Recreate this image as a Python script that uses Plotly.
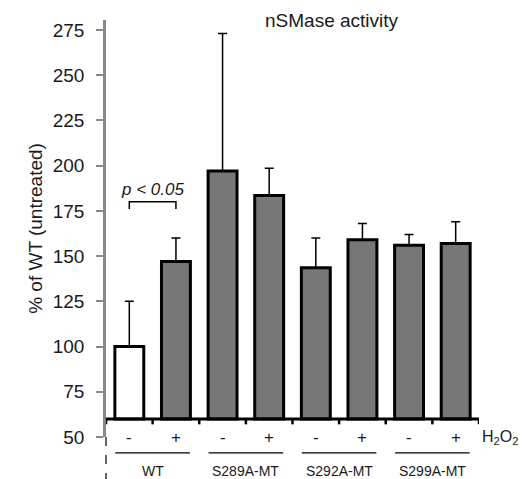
import plotly.graph_objects as go

categories = ["WT -", "WT +", "S289A -", "S289A +", "S292A -", "S292A +", "S299A -", "S299A +"]
treatment = ["-", "+", "-", "+", "-", "+", "-", "+"]
values = [100, 147, 197, 183.5, 143.5, 159, 156, 157]
errors = [25, 13, 76, 15, 16.5, 9, 6, 12]
groups = ["WT", "S289A-MT", "S292A-MT", "S299A-MT"]
yticks = [50, 75, 100, 125, 150, 175, 200, 225, 250, 275]
base_value = 60

FONT = "Liberation Sans, Arial, sans-serif"
TXT = "#1a1a1a"
colors = ["white"] + ["#777777"] * 7
xs = list(range(len(categories)))

fig = go.Figure()
fig.add_trace(go.Bar(
    x=xs, y=[v - base_value for v in values], base=base_value,
    marker=dict(color=colors, line=dict(color="black", width=3)),
    width=0.62,
    error_y=dict(type="data", array=errors, arrayminus=[0] * len(errors),
                 symmetric=False, color="black", thickness=1.5, width=4.5),
    showlegend=False,
))

shapes = []
# baseline
shapes.append(dict(type="line", xref="x", yref="y", x0=-0.5, x1=7.5, y0=base_value, y1=base_value,
                   line=dict(color="black", width=3)))
# category boundary ticks
for i in range(len(categories) + 1):
    b = i - 0.5
    shapes.append(dict(type="line", xref="x", yref="y", x0=b, x1=b, y0=base_value, y1=base_value - 3,
                       line=dict(color="black", width=2.5)))
# dashed extension of y axis below plot
shapes.append(dict(type="line", xref="paper", yref="paper", x0=0.0, x1=0.0, y0=0, y1=-0.11,
                   line=dict(color="#333333", width=1.5, dash="dash")))
# group underlines
for g in range(len(groups)):
    shapes.append(dict(type="line", xref="paper", yref="paper",
                       x0=(2 * g + 0.5 - 0.3) / 8.0, x1=(2 * g + 1.5 + 0.3) / 8.0,
                       y0=-0.038, y1=-0.038, line=dict(color="black", width=1.2)))
# significance bracket
shapes.append(dict(type="path", xref="x", yref="y",
                   path="M 0,176 L 0,180 L 1,180 L 1,176",
                   line=dict(color="black", width=1.5)))

annotations = []
for i, t in enumerate(treatment):
    annotations.append(dict(x=i, y=50, xref="x", yref="y", text=t, showarrow=False,
                            font=dict(family=FONT, size=17, color=TXT),
                            xanchor="center", yanchor="middle"))
for g, name in enumerate(groups):
    annotations.append(dict(x=(2 * g + 1) / 8.0, y=-0.082, xref="paper", yref="paper", text=name,
                            showarrow=False, font=dict(family=FONT, size=14, color=TXT),
                            xanchor="center", yanchor="middle"))
annotations.append(dict(x=1.003, y=50, xref="paper", yref="y", text="H<sub>2</sub>O<sub>2</sub>",
                        showarrow=False, font=dict(family=FONT, size=16, color=TXT),
                        xanchor="left", yanchor="middle"))
annotations.append(dict(x=0.5, y=187, xref="x", yref="y", text="<i>p < 0.05</i>",
                        showarrow=False, font=dict(family=FONT, size=17, color=TXT),
                        xanchor="center", yanchor="middle"))
annotations.append(dict(x=0.607, y=1.0, xref="paper", yref="paper",
                        text="nSMase activity", showarrow=False,
                        font=dict(family=FONT, size=19, color=TXT),
                        xanchor="center", yanchor="middle"))

fig.update_layout(
    width=519, height=471,
    margin=dict(l=98, r=48, t=12, b=42),
    paper_bgcolor="white", plot_bgcolor="white",
    font=dict(family=FONT, color=TXT),
    shapes=shapes, annotations=annotations,
)
fig.update_xaxes(range=[-0.5, 7.5], showticklabels=False, showline=False, showgrid=False,
                 zeroline=False, ticks="")
fig.update_yaxes(range=[50, 280.5], tickvals=yticks, ticktext=[str(v) for v in yticks],
                 showline=True, linecolor="#888888", linewidth=2.5,
                 ticks="outside", ticklen=7, tickwidth=2, tickcolor="#888888",
                 tickfont=dict(family=FONT, size=19, color=TXT),
                 ticklabelstandoff=8,
                 showgrid=False, zeroline=False,
                 title=dict(text="% of WT (untreated)", font=dict(family=FONT, size=19, color=TXT),
                            standoff=6))

fig.write_html("out.html")
